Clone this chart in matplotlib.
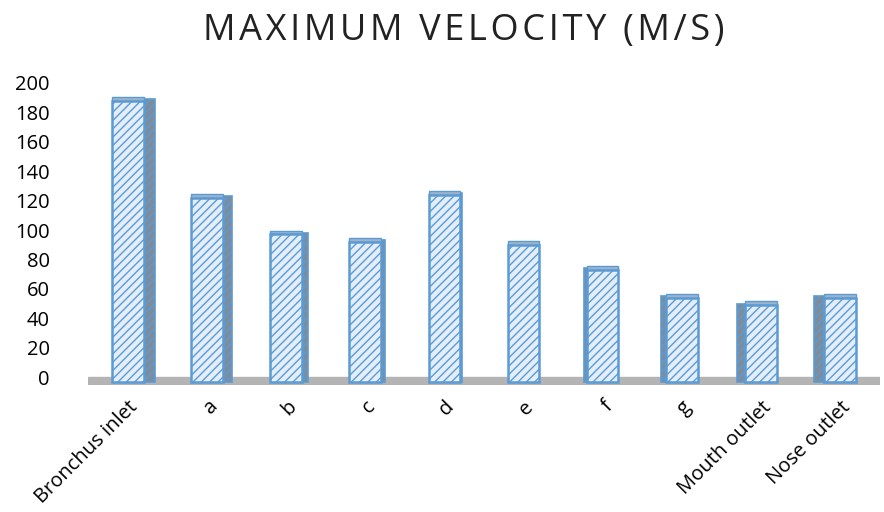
import numpy as np
import matplotlib.pyplot as plt

categories = ['Bronchus inlet', 'a', 'b', 'c', 'd', 'e', 'f', 'g', 'Mouth outlet', 'Nose outlet']
velocity = [188, 122, 97, 92, 124, 90, 73, 54, 49, 54]
y_ticks = [0, 20, 40, 60, 80, 100, 120, 140, 160, 180, 200]

plt.rcParams['hatch.linewidth'] = 1.0
fig = plt.figure(figsize=(8.84, 5.12), dpi=100)
ax = fig.add_axes([0.1, 0.249, 0.895, 0.589])

x = np.arange(len(categories))
front_w = 0.40

# floor band
ax.axhspan(-5, 0, color='#b4b4b4', zorder=0)

# side faces (perspective: right side on left bars, left side on right bars)
for i, v in enumerate(velocity):
    side = 0.14 * (4.7 - i) / 4.7
    if abs(side) < 0.02:
        continue
    sx = x[i] + np.sign(side) * front_w / 2
    ax.bar(sx, v + 4, width=side, align='edge', bottom=-3,
           color='#7f8c9a', edgecolor='#5b9bd5', hatch='////', linewidth=1.2, zorder=2)

# top faces
ax.bar(x, [2.5] * len(x), bottom=velocity, width=front_w, color='#9fb3c8',
       edgecolor='#5b9bd5', linewidth=1.0, zorder=2)

# front faces
plt.rcParams['hatch.color'] = '#6fa8dc'
ax.bar(x, np.array(velocity) + 3, bottom=-3, width=front_w, color='#e3eefa',
       edgecolor='#5b9bd5', hatch='////', linewidth=1.8, zorder=3)

ax.set_xlim(-0.5, 9.5)
ax.set_ylim(-5, 200)
ax.set_yticks(y_ticks)
ax.set_yticklabels([str(t) for t in y_ticks], fontsize=14.5, family='Open Sans')
ax.set_xticks(x)
ax.set_xticklabels(categories, rotation=45, ha='right', rotation_mode='anchor',
                   fontsize=14.5, family='Open Sans')
ax.tick_params(axis='y', length=0, pad=28)
ax.tick_params(axis='x', length=0, pad=9)
for s in ax.spines.values():
    s.set_visible(False)

title = '\u200a'.join('MAXIMUM VELOCITY (M/S)')
fig.suptitle(title, x=0.525, y=0.975, fontsize=26,
             family=['Open Sans', 'DejaVu Sans'], color='#222222')

fig.savefig('out.png', dpi=100)
